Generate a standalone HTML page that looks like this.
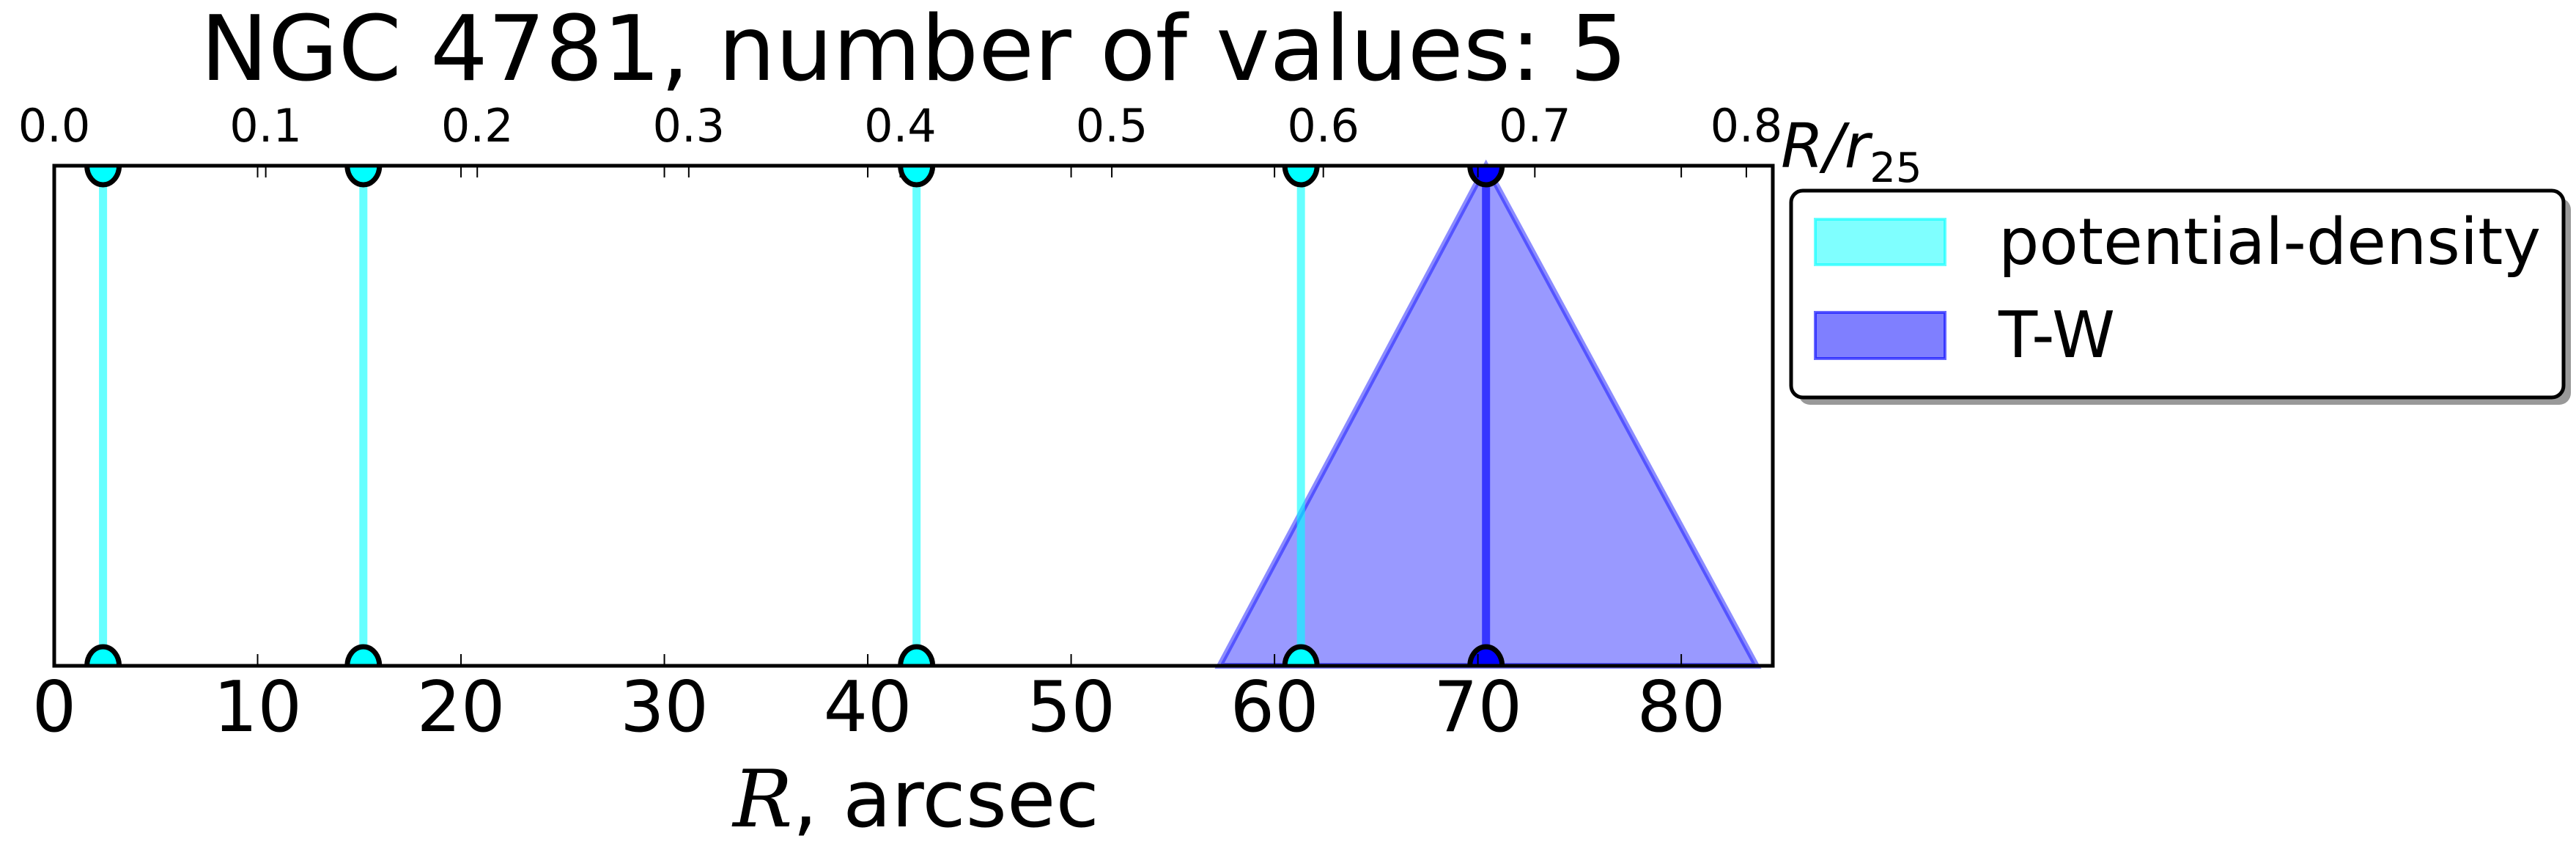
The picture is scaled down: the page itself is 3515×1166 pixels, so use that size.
<!DOCTYPE html>
<html><head><meta charset="utf-8"><style>
html,body{margin:0;padding:0;background:#fff;}
svg{display:block;}
text{font-family:"DejaVu Sans","Liberation Sans",sans-serif;}
</style></head><body>
<svg id="chart" width="3515" height="1166" viewBox="0 0 3515 1166" xmlns="http://www.w3.org/2000/svg">
<text x="1247" y="109" font-size="123" text-anchor="middle" textLength="1947" lengthAdjust="spacingAndGlyphs">NGC 4781, number of values: 5</text>
<g id="plot"></g>
<text x="1250" y="1127" font-size="108" text-anchor="middle"><tspan font-family="'DejaVu Serif','Liberation Serif',serif" font-style="italic">R</tspan>, arcsec</text>
<text x="2430" y="228" font-size="84" font-family="'Liberation Serif','DejaVu Serif',serif" font-style="italic">R/r<tspan font-size="56" dy="20" font-style="normal">25</tspan></text>
<g>
<rect x="2454" y="270" width="1054" height="282" rx="16" fill="#999"/>
<rect x="2444" y="260" width="1054" height="282" rx="16" fill="#fff" stroke="#000" stroke-width="5"/>
<rect x="2477" y="299" width="177" height="62" fill="rgba(0,255,255,0.5)" stroke="rgba(0,255,255,0.6)" stroke-width="4"/>
<text x="2727" y="360" font-size="87" textLength="740" lengthAdjust="spacingAndGlyphs">potential-density</text>
<rect x="2477" y="426" width="177" height="63" fill="rgba(0,0,255,0.5)" stroke="rgba(0,0,255,0.6)" stroke-width="4"/>
<text x="2727" y="487" font-size="87">T-W</text>
</g>
</svg>
<script>
const pdValues = [2.4, 15.2, 42.4, 61.3];
const twValues = [70.4];
const twLow = [57.3];
const twHigh = [83.7];
const bottomTicks = [0, 10, 20, 30, 40, 50, 60, 70, 80];
const topTicks = [0.0, 0.1, 0.2, 0.3, 0.4, 0.5, 0.6, 0.7, 0.8];
const r25 = 104.0;

const L = 74, R = 2419, T = 226, B = 908, XMAX = 84.5;
const NS = 'http://www.w3.org/2000/svg';
const xs = v => L + (R - L) * v / XMAX;
const xr = v => xs(v * r25);
const g = document.getElementById('plot');
function mk(tag, attrs, parent) {
  const e = document.createElementNS(NS, tag);
  for (const k in attrs) e.setAttribute(k, attrs[k]);
  (parent || g).appendChild(e);
  return e;
}
twValues.forEach((v, i) => {
  const p = mk('polygon', {points: `${xs(twLow[i])},${B} ${xs(v)},${T} ${xs(twHigh[i])},${B}`, fill: 'rgba(0,0,255,0.4)', stroke: 'rgba(0,0,255,0.45)', 'stroke-width': 8});
  
  
});
pdValues.forEach(v => {
  const l = mk('line', {x1: xs(v), x2: xs(v), y1: T, y2: B, stroke: 'rgba(0,255,255,0.6)', 'stroke-width': 11});
  
  
});
twValues.forEach(v => {
  const l = mk('line', {x1: xs(v), x2: xs(v), y1: T, y2: B, stroke: 'rgba(0,0,255,0.65)', 'stroke-width': 11});
  
  
});
const defs = mk('defs', {});
const cp = mk('clipPath', {id: 'clipax'}, defs);
mk('rect', {x: L, y: T, width: R - L, height: B - T}, cp);
const mg = mk('g', {'clip-path': 'url(#clipax)'});
function marker(v, color, name) {
  [T, B].forEach(y => {
    const c = mk('ellipse', {cx: xs(v), cy: y, rx: 22, ry: 26, fill: color, stroke: '#000', 'stroke-width': 7}, mg);
    
    
  });
}
pdValues.forEach(v => marker(v, '#00ffff', 'potential-density-marker'));
twValues.forEach(v => marker(v, '#0000ff', 'tw-marker'));
const fr = mk('rect', {x: L, y: T, width: R - L, height: B - T, fill: 'none', stroke: '#000', 'stroke-width': 5});


bottomTicks.forEach(t => {
  const x = xs(t);
  mk('line', {x1: x, x2: x, y1: B, y2: B - 16, stroke: '#000', 'stroke-width': 2});
  mk('line', {x1: x, x2: x, y1: T, y2: T + 16, stroke: '#000', 'stroke-width': 2});
  const tx = mk('text', {x: x, y: 997, 'font-size': 95, 'text-anchor': 'middle'});
  tx.textContent = String(t);
  
  
});
topTicks.forEach(t => {
  const x = xr(t);
  mk('line', {x1: x, x2: x, y1: T, y2: T + 16, stroke: '#000', 'stroke-width': 2});
  const tx = mk('text', {x: x, y: 193, 'font-size': 62, 'text-anchor': 'middle'});
  tx.textContent = t.toFixed(1);
  
  
});
</script>
</body></html>
